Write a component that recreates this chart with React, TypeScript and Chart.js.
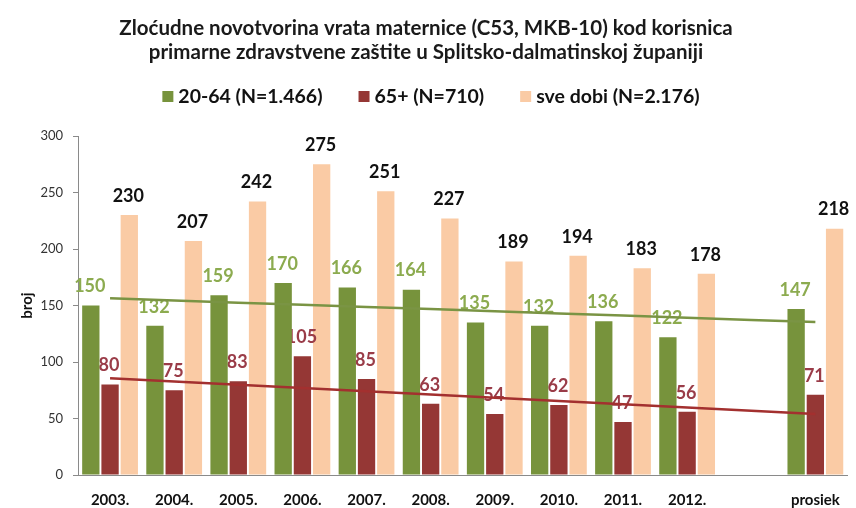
import React, { useEffect, useRef } from 'react';
import { Chart, registerables } from 'chart.js';

Chart.register(...registerables);

const categories = ['2003.', '2004.', '2005.', '2006.', '2007.', '2008.', '2009.', '2010.', '2011.', '2012.', '', 'prosiek'];
const age2064 = [150, 132, 159, 170, 166, 164, 135, 132, 136, 122, null, 147];
const age65 = [80, 75, 83, 105, 85, 63, 54, 62, 47, 56, null, 71];
const allAges = [230, 207, 242, 275, 251, 227, 189, 194, 183, 178, null, 218];
const seriesLabels = ['20-64 (N=1.466)', '65+ (N=710)', 'sve dobi (N=2.176)'];
const titleLines = [
  'Zloćudne novotvorina vrata maternice (C53, MKB-10) kod korisnica',
  'primarne zdravstvene zaštite u Splitsko-dalmatinskoj županiji',
];
const yAxisTitle = 'broj';
const yMin = 0;
const yMax = 300;
const yStep = 50;

const FONT = 'Lato';

function trend(values: (number | null)[]): number[] {
  const pts: [number, number][] = [];
  values.forEach((v, i) => { if (v !== null) pts.push([i, v]); });
  const n = pts.length;
  const mx = pts.reduce((s, p) => s + p[0], 0) / n;
  const my = pts.reduce((s, p) => s + p[1], 0) / n;
  let sxy = 0, sxx = 0;
  pts.forEach(([x, y]) => { sxy += (x - mx) * (y - my); sxx += (x - mx) * (x - mx); });
  const b = sxy / sxx;
  const a = my - b * mx;
  return values.map((_, i) => a + b * i);
}

const labelPlugin = {
  id: 'barLabels',
  afterDatasetDraw(chart: any, args: any) {
    const ds: any = chart.data.datasets[args.index];
    if (ds.type === 'line') return;
    const ctx = chart.ctx;
    ctx.save();
    ctx.font = `bold 18px ${FONT}`;
    ctx.fillStyle = ds.labelColor;
    ctx.textAlign = 'center';
    ctx.textBaseline = 'middle';
    args.meta.data.forEach((el: any, i: number) => {
      const v = ds.data[i];
      if (v === null || v === undefined) return;
      ctx.fillText(String(v), el.x - 1, el.y - 19);
    });
    ctx.restore();
  },
};

const legendPlugin = {
  id: 'customLegend',
  afterDraw(chart: any) {
    const ctx = chart.ctx;
    const items = chart.data.datasets.filter((d: any) => d.type !== 'line');
    ctx.save();
    ctx.font = `bold 19.5px ${FONT}`;
    ctx.textBaseline = 'middle';
    ctx.textAlign = 'left';
    const box = 11;
    const gapText = 5;
    const gapItem = 36;
    const widths = items.map((d: any) => box + gapText + ctx.measureText(d.label).width);
    const total = widths.reduce((s: number, w: number) => s + w, 0) + gapItem * (items.length - 1);
    let x = chart.width / 2 + 3 - total / 2;
    const y = 97;
    items.forEach((d: any, i: number) => {
      ctx.fillStyle = d.backgroundColor;
      ctx.fillRect(x, y - 6, box, box);
      ctx.fillStyle = '#111';
      ctx.fillText(d.label, x + box + gapText, y);
      x += widths[i] + gapItem;
    });
    ctx.restore();
  },
};

export default function App() {
  const ref = useRef<HTMLCanvasElement>(null);
  useEffect(() => {
    document.body.style.margin = '0';
    const canvas = ref.current;
    if (!canvas) return;
    const chart = new Chart(canvas, {
      type: 'bar',
      data: {
        labels: categories,
        datasets: [
          {
            type: 'line',
            label: 'trend 20-64',
            data: trend(age2064),
            borderColor: '#7A9444',
            borderWidth: 2.5,
            pointRadius: 0,
            fill: false,
            order: 0,
          } as any,
          {
            type: 'line',
            label: 'trend 65+',
            data: trend(age65),
            borderColor: '#A3302F',
            borderWidth: 2.5,
            pointRadius: 0,
            fill: false,
            order: 0,
          } as any,
          {
            type: 'bar',
            label: seriesLabels[0],
            data: age2064,
            backgroundColor: '#77933C',
            labelColor: '#8CAB4F',
            order: 1,
          } as any,
          {
            type: 'bar',
            label: seriesLabels[1],
            data: age65,
            backgroundColor: '#953735',
            labelColor: '#9A3C48',
            order: 1,
          } as any,
          {
            type: 'bar',
            label: seriesLabels[2],
            data: allAges,
            backgroundColor: '#FACBA5',
            labelColor: '#111111',
            order: 1,
          } as any,
        ],
      },
      options: {
        responsive: false,
        animation: false,
        devicePixelRatio: 1,
        layout: { padding: { top: 0, right: 4, bottom: 0, left: 0 } },
        datasets: { bar: { categoryPercentage: 0.9, barPercentage: 0.9 } },
        plugins: {
          legend: { display: false },
          tooltip: { enabled: false },
          title: {
            display: true,
            text: titleLines,
            color: '#1a1a1a',
            font: { family: FONT, size: 20.5, weight: 'bold', lineHeight: '24px' } as any,
            padding: { top: 16, bottom: 72 },
          },
        },
        scales: {
          x: {
            afterFit: (s: any) => { s.height = 33; },
            grid: { display: false, drawTicks: false },
            border: { display: true, color: '#8a8a8a', width: 1 },
            ticks: {
              color: '#111',
              font: { family: FONT, size: 15, weight: 'bold' },
              padding: 16,
              maxRotation: 0,
              autoSkip: false,
            },
          },
          y: {
            min: yMin,
            max: yMax,
            afterFit: (s: any) => { s.width = 78; },
            grid: { display: true, drawOnChartArea: false, drawTicks: true, tickLength: 5, color: '#8a8a8a' },
            border: { display: true, color: '#8a8a8a', width: 1 },
            ticks: {
              stepSize: yStep,
              color: '#333',
              font: { family: FONT, size: 13 },
              padding: 10,
            },
            title: {
              display: true,
              text: yAxisTitle,
              color: '#111',
              font: { family: FONT, size: 15, weight: 'bold' },
              padding: { top: 18, bottom: 0 },
            },
          },
        },
      },
      plugins: [labelPlugin, legendPlugin],
    });
    return () => chart.destroy();
  }, []);
  return (
    <div style={{ width: 856, height: 508 }}>
      <canvas ref={ref} width={856} height={508} />
    </div>
  );
}
